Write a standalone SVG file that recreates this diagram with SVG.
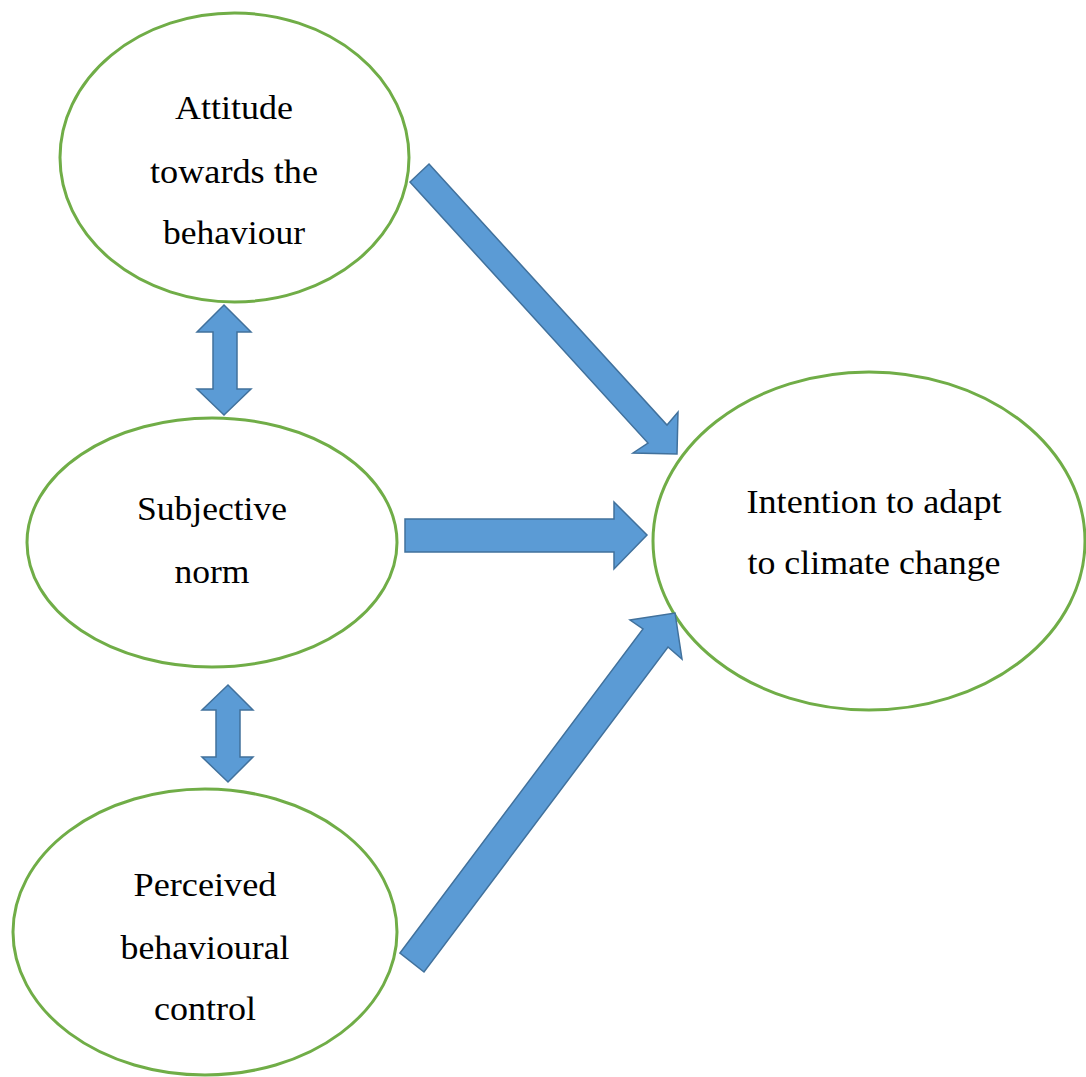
<svg xmlns="http://www.w3.org/2000/svg" width="1086" height="1077" viewBox="0 0 1086 1077">
<style>
.node ellipse{fill:#FFFFFF;stroke:#70AD47;stroke-width:3}
.node text{font-size:34px;fill:#000000;text-anchor:middle}
.conn polygon{fill:#5B9BD5;stroke:#41719C;stroke-width:1.5;stroke-linejoin:miter}
</style>
<rect width="1086" height="1077" fill="#FFFFFF"/>
<g id="attitude" class="node" font-family="'Liberation Serif', 'DejaVu Serif', 'Times New Roman', Times, serif">
<ellipse cx="234.5" cy="157.5" rx="174.5" ry="144.5"/>
<text x="234" y="119" textLength="118" lengthAdjust="spacingAndGlyphs">Attitude</text>
<text x="234" y="183" textLength="168" lengthAdjust="spacingAndGlyphs">towards the</text>
<text x="234" y="244" textLength="142" lengthAdjust="spacingAndGlyphs">behaviour</text>
</g>
<g id="subjective-norm" class="node" font-family="'Liberation Serif', 'DejaVu Serif', 'Times New Roman', Times, serif">
<ellipse cx="212" cy="542.5" rx="185" ry="124.5"/>
<text x="212" y="520" textLength="150" lengthAdjust="spacingAndGlyphs">Subjective</text>
<text x="212" y="583" textLength="75" lengthAdjust="spacingAndGlyphs">norm</text>
</g>
<g id="perceived-control" class="node" font-family="'Liberation Serif', 'DejaVu Serif', 'Times New Roman', Times, serif">
<ellipse cx="205" cy="932" rx="192" ry="143"/>
<text x="205" y="896" textLength="143" lengthAdjust="spacingAndGlyphs">Perceived</text>
<text x="205" y="959" textLength="169" lengthAdjust="spacingAndGlyphs">behavioural</text>
<text x="205" y="1020" textLength="102" lengthAdjust="spacingAndGlyphs">control</text>
</g>
<g id="intention" class="node" font-family="'Liberation Serif', 'DejaVu Serif', 'Times New Roman', Times, serif">
<ellipse cx="869" cy="541" rx="216" ry="169"/>
<text x="874" y="513" textLength="255" lengthAdjust="spacingAndGlyphs">Intention to adapt</text>
<text x="874" y="574" textLength="253" lengthAdjust="spacingAndGlyphs">to climate change</text>
</g>
<g id="connectors" class="conn">
<polygon points="429,164 667,425 678,412 677,454 633,453 648,443 410,182"/>
<polygon points="405,519 614,519 614,502 647,535 614,569 614,552 405,552"/>
<polygon points="400,953 643,629 630,620 675,613 682,659 668,647 424,972"/>
<polygon points="224,305 251,332 237,332 237,389 251,389 224,415 197,389 213,389 213,332 197,332"/>
<polygon points="228,685 253,710 240,710 240,757 253,757 228,782 202,757 216,757 216,710 202,710"/>
</g>
</svg>
